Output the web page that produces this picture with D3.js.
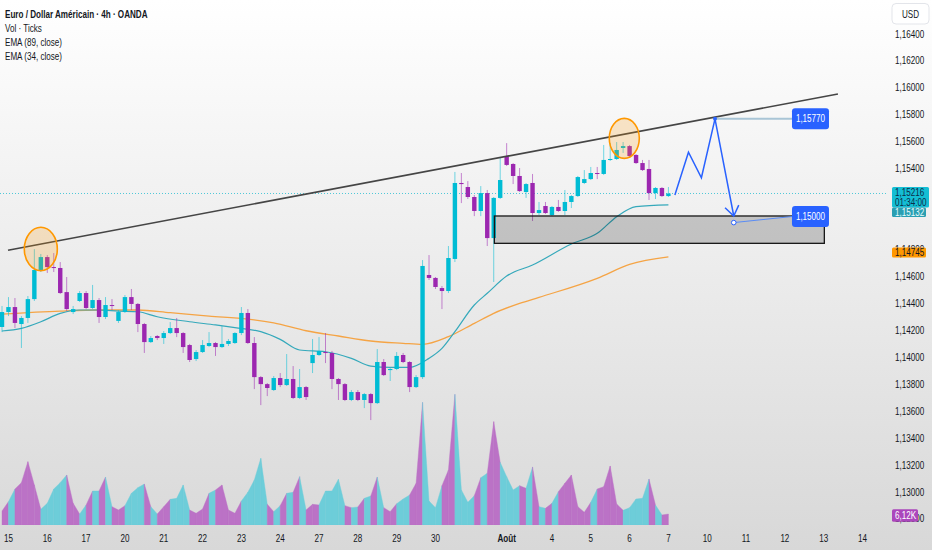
<!DOCTYPE html>
<html>
<head>
<meta charset="utf-8">
<script src="https://cdn.jsdelivr.net/npm/d3@7"></script>
<style>
  html, body { margin: 0; padding: 0; background: #fff; }
  svg { display: block; font-family: "Liberation Sans", Arial, sans-serif; }
</style>
</head>
<body>
<svg width="932" height="550"></svg>
<script>
// EUR/USD 4h candles
const opens = [1.14225,1.14336,1.14373,1.14247,1.14292,1.14432,1.14648,1.14744,1.14670,1.14663,
  1.14484,1.14336,1.14418,1.14477,1.14366,1.14425,1.14299,1.14388,1.14270,1.14336,
  1.14447,1.14396,1.14247,1.14113,1.14158,1.14143,1.14180,1.14217,1.14180,1.14091,
  1.13987,1.14039,1.14084,1.14106,1.14076,1.14099,1.14106,1.14180,1.14329,1.14106,
  1.13853,1.13801,1.13757,1.13846,1.13794,1.13839,1.13698,1.13779,1.13957,1.14017,
  1.14039,1.14032,1.13839,1.13801,1.13683,1.13742,1.13683,1.13727,1.13660,1.13965,
  1.13905,1.13913,1.14017,1.13965,1.13779,1.13853,1.14611,1.14589,1.14514,1.14492,
  1.14730,1.15294,1.15264,1.15190,1.15086,1.15219,1.14885,1.15183,1.15494,1.15435,
  1.15346,1.15227,1.15294,1.15071,1.15123,1.15056,1.15116,1.15086,1.15153,1.15197,
  1.15294,1.15323,1.15368,1.15361,1.15465,1.15472,1.15554,1.15568,1.15502,1.15442,
  1.15398,1.15219,1.15257,1.15197];
const highs = [1.14381,1.14447,1.14440,1.14306,1.14455,1.14803,1.14767,1.14759,1.14774,1.14707,
  1.14596,1.14381,1.14492,1.14492,1.14537,1.14440,1.14447,1.14432,1.14351,1.14462,
  1.14507,1.14403,1.14255,1.14158,1.14165,1.14195,1.14262,1.14292,1.14187,1.14099,
  1.14054,1.14128,1.14187,1.14113,1.14232,1.14136,1.14187,1.14373,1.14358,1.14150,
  1.13861,1.13809,1.13861,1.13883,1.14024,1.13935,1.13913,1.13787,1.14136,1.14150,
  1.14180,1.14047,1.13846,1.13809,1.13757,1.13757,1.13735,1.13735,1.14061,1.13987,
  1.13920,1.14039,1.14032,1.13972,1.13868,1.14722,1.14759,1.14596,1.14529,1.14826,
  1.15376,1.15368,1.15308,1.15205,1.15271,1.15242,1.15190,1.15479,1.15590,1.15442,
  1.15405,1.15294,1.15361,1.15153,1.15153,1.15123,1.15168,1.15242,1.15205,1.15346,
  1.15390,1.15413,1.15413,1.15576,1.15590,1.15598,1.15598,1.15576,1.15509,1.15465,
  1.15465,1.15264,1.15264,1.15264];
const lows = [1.14187,1.14306,1.14217,1.14069,1.14255,1.14418,1.14633,1.14626,1.14633,1.14470,
  1.14343,1.14321,1.14410,1.14358,1.14358,1.14255,1.14284,1.14351,1.14255,1.14329,
  1.14351,1.14187,1.14032,1.14106,1.14128,1.14099,1.14173,1.14150,1.14032,1.13965,
  1.13972,1.14032,1.14076,1.14010,1.14069,1.14084,1.14099,1.14165,1.14099,1.13764,
  1.13645,1.13712,1.13750,1.13779,1.13787,1.13690,1.13690,1.13683,1.13883,1.14010,
  1.13957,1.13764,1.13683,1.13675,1.13675,1.13675,1.13623,1.13534,1.13653,1.13861,
  1.13824,1.13905,1.13957,1.13742,1.13772,1.13839,1.14574,1.14507,1.14358,1.14477,
  1.14707,1.15145,1.15175,1.15048,1.15048,1.14826,1.14559,1.15175,1.15420,1.15286,
  1.15227,1.15183,1.15012,1.15056,1.15064,1.15048,1.15079,1.15056,1.15108,1.15190,
  1.15286,1.15316,1.15323,1.15353,1.15457,1.15465,1.15517,1.15487,1.15435,1.15383,
  1.15168,1.15175,1.15190,1.15190];
const closes = [1.14336,1.14373,1.14255,1.14292,1.14432,1.14648,1.14744,1.14670,1.14663,1.14477,
  1.14358,1.14358,1.14477,1.14366,1.14425,1.14299,1.14388,1.14381,1.14336,1.14447,
  1.14396,1.14247,1.14113,1.14143,1.14143,1.14180,1.14217,1.14180,1.14076,1.13980,
  1.14039,1.14091,1.14106,1.14076,1.14099,1.14121,1.14180,1.14329,1.14106,1.13853,
  1.13801,1.13772,1.13846,1.13794,1.13839,1.13698,1.13779,1.13705,1.14017,1.14047,
  1.14032,1.13839,1.13801,1.13683,1.13742,1.13683,1.13727,1.13660,1.13965,1.13868,
  1.13913,1.14010,1.13965,1.13779,1.13853,1.14678,1.14589,1.14522,1.14492,1.14737,
  1.15294,1.15286,1.15190,1.15086,1.15219,1.14885,1.15183,1.15316,1.15428,1.15346,
  1.15234,1.15286,1.15071,1.15093,1.15071,1.15116,1.15086,1.15153,1.15197,1.15338,
  1.15323,1.15368,1.15361,1.15465,1.15472,1.15539,1.15568,1.15494,1.15442,1.15390,
  1.15219,1.15257,1.15197,1.15216];

// tick volume, thousands
const volumes = [7.79,12.99,20.03,23.56,35.25,22.26,8.72,12.06,20.03,23.56,
  27.83,12.06,6.12,11.13,18.92,18.92,26.71,10.20,8.35,10.76,
  17.62,20.78,22.82,10.20,6.12,10.20,14.28,14.84,22.26,8.35,
  6.49,8.90,17.62,19.48,22.26,8.35,6.49,13.36,18.18,25.04,
  37.10,11.50,7.42,10.76,17.62,18.18,26.90,8.35,11.50,11.13,
  18.92,18.92,25.41,10.76,9.65,10.02,14.84,16.14,26.71,9.65,
  7.42,11.87,14.47,16.70,23.19,68.26,13.36,9.65,21.89,30.61,
  72.72,19.48,12.61,16.32,26.34,28.75,57.51,34.87,26.90,19.48,
  21.89,20.41,32.28,10.20,9.28,12.06,18.55,23.19,27.83,10.20,
  7.05,12.61,20.03,21.33,32.83,11.69,8.16,9.65,14.47,14.84,
  25.60,11.13,5.57,6.12];
// colour of each volume segment between two bars: p = purple, c = cyan
const volColors = ("pcppppcccc" + "ppcpcpcppc" + "ccpcppcccp" + "ppcppppccc" + "cpcpcpcppc" +
  "cccpcpcpcp" + "pccppcccpp" + "cccpcppccc" + "pcpcpcpppp" + "pcppppcccc" + "pcp").split('');

// moving averages sampled along the picture (bar index, price)
const ema89Idx = [0, 9, 15, 21, 26, 32, 38, 42, 47, 52, 57, 62, 65, 69, 73, 76, 80, 83, 92, 97, 103];
const ema89Val = [1.14321,1.14343,1.14351,1.14351,1.14331,1.14306,1.14284,1.14255,1.14197,1.14158,
  1.14121,1.14104,1.14096,1.14153,1.14252,1.14326,1.14400,1.14445,1.14586,1.14689,1.14745];
const ema34Idx = [0, 3, 6, 9, 12, 15, 18, 21, 24, 29, 33, 36, 40, 43, 46, 50, 54, 57, 60, 63,
  66, 68, 70, 73, 75, 78, 82, 88, 92, 95, 98, 103];
const ema34Val = [1.14195,1.14215,1.14264,1.14326,1.14351,1.14351,1.14343,1.14338,1.14301,1.14264,
  1.14240,1.14220,1.14190,1.14133,1.14054,1.14041,1.13992,1.13935,1.13925,1.13925,
  1.13992,1.14066,1.14190,1.14388,1.14475,1.14603,1.14685,1.14841,1.14920,1.15044,1.15118,1.15132];

// time axis
const dayIdx = [1, 7, 13, 19, 25, 31, 37, 43, 49, 55, 61, 67, 78, 85, 91, 97, 103, 109, 115, 121, 127, 133];
const dayLbl = ['15','16','17','20','21','22','23','24','27','28','29','30','Août','4','5','6','7','10','11','12','13','14'];

// drawings
const trendIdx = [0.93, 129.2];
const trendVal = [1.14795, 1.15955];
const circles = [[3.45, 8.55, 1.14965, 1.14643], [93.86, 98.5, 1.15774, 1.15477]];
const zoneIdx = [76.1, 127.1];
const zoneVal = [1.14846, 1.15049];
const projIdx = [104.0, 106.1, 108.1, 110.2, 113.1];
const projVal = [1.15205, 1.15522, 1.15333, 1.15770, 1.15049];
const targetVal = [1.15770, 1.15000];
const targetAnchor = [1.15770, 1.15045];
const targetIdx = 122.1;

const lastPrice = 1.15216;
const ema34Last = 1.15132;
const ema89Last = 1.14745;
const lastVol = 6.12;
const countdown = '01:34:00';

const UP = '#00bcd4', DOWN = '#9c27b0';
const SX = 0.81; // the chart's font is narrower than the installed ones

const svg = d3.select('svg');
const W = +svg.attr('width'), H = +svg.attr('height');

const x = d3.scaleLinear().domain([0, 133]).range([2, 2 + 6.47 * 133]);
const y = d3.scaleLinear().domain([1.130, 1.164]).range([492, 34]);
const yVol = d3.scaleLinear().domain([0, 6.12]).range([525, 514]);

const loc = d3.formatLocale({decimal: ',', thousands: '\u00a0', grouping: [3], currency: ['', '']});
const fmt = loc.format('.5f');
const fmtK = v => loc.format('.2f')(v) + 'K';

const at = (tx, ty) => `translate(${tx},${ty}) scale(${SX},1)`;

const defs = svg.append('defs');
const grad = defs.append('linearGradient').attr('id', 'bg').attr('x1', 0).attr('y1', 0).attr('x2', 0).attr('y2', 1);
grad.append('stop').attr('offset', '0%').attr('stop-color', '#ffffff');
grad.append('stop').attr('offset', '100%').attr('stop-color', '#d8d8d8');
defs.append('clipPath').attr('id', 'plot').append('rect')
  .attr('x', 0).attr('y', 0).attr('width', 886).attr('height', 525);

svg.append('rect').attr('width', W).attr('height', H).attr('fill', 'url(#bg)');

const plot = svg.append('g').attr('clip-path', 'url(#plot)');

// volume, drawn as an area split in coloured segments
plot.append('g')
  .selectAll('path')
  .data(d3.range(volumes.length - 1))
  .join('path')
  .attr('d', k => `M${x(k)},${yVol(0)}L${x(k)},${yVol(volumes[k])}L${x(k + 1)},${yVol(volumes[k + 1])}L${x(k + 1)},${yVol(0)}Z`)
  .attr('fill', k => volColors[k] === 'p' ? '#bb72c6' : '#6dcdd9')
  .attr('stroke', k => volColors[k] === 'p' ? '#bb72c6' : '#6dcdd9')
  .attr('stroke-width', 0.4);

// last price dotted line
plot.append('line')
  .attr('x1', 0).attr('x2', 892)
  .attr('y1', y(lastPrice)).attr('y2', y(lastPrice))
  .attr('stroke', '#4fc8d8').attr('stroke-width', 1)
  .attr('stroke-dasharray', '1,2');

// EMAs
const emaLine = d3.line().x(d => x(d[0])).y(d => y(d[1])).curve(d3.curveMonotoneX);
plot.append('path')
  .attr('d', emaLine(d3.zip(ema89Idx, ema89Val)))
  .attr('fill', 'none').attr('stroke', '#f5a445').attr('stroke-width', 1.3);
plot.append('path')
  .attr('d', emaLine(d3.zip(ema34Idx, ema34Val)))
  .attr('fill', 'none').attr('stroke', '#35a9bb').attr('stroke-width', 1.2);

// candles
const bars = d3.range(opens.length).map(i => ({i, o: opens[i], h: highs[i], l: lows[i], c: closes[i]}));
const candle = plot.append('g').selectAll('g').data(bars).join('g');
candle.append('line')
  .attr('x1', d => x(d.i)).attr('x2', d => x(d.i))
  .attr('y1', d => y(d.h)).attr('y2', d => y(d.l))
  .attr('stroke', d => d.c >= d.o ? UP : DOWN)
  .attr('stroke-opacity', 0.55)
  .attr('stroke-width', 1);
candle.append('rect')
  .attr('x', d => x(d.i) - 2.2)
  .attr('width', 4.4)
  .attr('y', d => y(Math.max(d.o, d.c)))
  .attr('height', d => Math.max(1, Math.abs(y(d.o) - y(d.c))))
  .attr('fill', d => d.c >= d.o ? UP : DOWN);

// support zone
plot.append('rect')
  .attr('x', x(zoneIdx[0])).attr('width', x(zoneIdx[1]) - x(zoneIdx[0]))
  .attr('y', y(zoneVal[1])).attr('height', y(zoneVal[0]) - y(zoneVal[1]))
  .attr('fill', 'rgba(0,0,0,0.19)')
  .attr('stroke', '#161616').attr('stroke-width', 1.3);

// trend line
plot.append('line')
  .attr('x1', x(trendIdx[0])).attr('y1', y(trendVal[0]))
  .attr('x2', x(trendIdx[1])).attr('y2', y(trendVal[1]))
  .attr('stroke', '#454545').attr('stroke-width', 1.6);

// highlighted touches
plot.append('g').selectAll('ellipse').data(circles).join('ellipse')
  .attr('cx', d => (x(d[0]) + x(d[1])) / 2)
  .attr('cy', d => (y(d[2]) + y(d[3])) / 2)
  .attr('rx', d => (x(d[1]) - x(d[0])) / 2)
  .attr('ry', d => (y(d[3]) - y(d[2])) / 2)
  .attr('fill', 'rgba(255,152,0,0.2)')
  .attr('stroke', '#ff9800').attr('stroke-width', 1.6);

// projected path
const BLUE = '#2962ff';
const proj = d3.zip(projIdx, projVal).map(d => [x(d[0]), y(d[1])]);
plot.append('path')
  .attr('d', d3.line()(proj))
  .attr('fill', 'none').attr('stroke', BLUE).attr('stroke-width', 1.5)
  .attr('stroke-linejoin', 'miter');
const tip = proj[proj.length - 1], prev = proj[proj.length - 2];
const ang = Math.atan2(prev[1] - tip[1], prev[0] - tip[0]);
const wing = [ang - 0.62, ang + 0.62].map(a => [tip[0] + 12 * Math.cos(a), tip[1] + 12 * Math.sin(a)]);
plot.append('path')
  .attr('d', d3.line()([wing[0], tip, wing[1]]))
  .attr('fill', 'none').attr('stroke', BLUE).attr('stroke-width', 1.5);

// target lines and labels
const boxX = x(targetIdx), boxW = 37, boxH = 21;
plot.append('line')
  .attr('x1', x(projIdx[3])).attr('x2', boxX)
  .attr('y1', y(targetAnchor[0])).attr('y2', y(targetAnchor[0]))
  .attr('stroke', '#a9c5d6').attr('stroke-width', 2);
plot.append('circle')
  .attr('cx', x(projIdx[3])).attr('cy', y(projVal[3])).attr('r', 2).attr('fill', BLUE);
plot.append('line')
  .attr('x1', x(projIdx[4])).attr('y1', y(targetVal[1]))
  .attr('x2', boxX).attr('y2', y(targetAnchor[1]))
  .attr('stroke', '#5a8cf5').attr('stroke-width', 1);
plot.append('circle')
  .attr('cx', x(projIdx[4])).attr('cy', y(targetVal[1])).attr('r', 2.3)
  .attr('fill', '#fff').attr('stroke', BLUE).attr('stroke-width', 1);

const tgt = svg.append('g').selectAll('g').data(d3.zip(targetVal, targetAnchor)).join('g')
  .attr('transform', d => `translate(${boxX},${y(d[1]) - boxH / 2})`);
tgt.append('rect').attr('width', boxW).attr('height', boxH).attr('rx', 3).attr('fill', BLUE);
tgt.append('text')
  .attr('transform', at(boxW / 2, boxH / 2 + 3.6))
  .attr('text-anchor', 'middle').attr('font-size', 10).attr('fill', '#fff')
  .text(d => fmt(d[0]));

// legend
const legend = svg.append('g').attr('fill', '#131722').attr('font-size', 10);
legend.append('text').attr('transform', at(5, 17.5)).attr('font-weight', 'bold')
  .text('Euro / Dollar Américain · 4h · OANDA');
['Vol · Ticks', 'EMA (89, close)', 'EMA (34, close)'].forEach((t, k) => {
  legend.append('text').attr('transform', at(5, 31.8 + k * 14.2)).text(t);
});

// price axis
const ticks = d3.range(1.128, 1.1641, 0.002)
  .filter(v => { const yy = y(v); return yy < 184 || yy > 226; });
svg.append('g').selectAll('text').data(ticks).join('text')
  .attr('transform', v => at(895, y(v) + 3.5))
  .attr('font-size', 10).attr('fill', '#131722')
  .text(v => fmt(v));

svg.append('rect').attr('x', 892).attr('y', 3.5).attr('width', 37).attr('height', 20.5)
  .attr('rx', 4).attr('fill', '#fff').attr('stroke', '#e3e5ea');
svg.append('text').attr('transform', at(910.5, 17.5)).attr('text-anchor', 'middle')
  .attr('font-size', 10).attr('fill', '#131722').text('USD');

function priceTag(top, h, w, fill, lines, color) {
  svg.append('rect').attr('x', 892).attr('y', top).attr('width', w).attr('height', h)
    .attr('rx', 1.5).attr('fill', fill);
  const lh = h / lines.length;
  lines.forEach((t, k) => {
    svg.append('text').attr('transform', at(895, top + 3.6 + (k + 0.5) * lh))
      .attr('font-size', 10).attr('fill', color).text(t);
  });
  return top + h;
}
const lastBottom = priceTag(y(lastPrice) - 6.5, 20.5, 37, '#14bed4', [fmt(lastPrice), countdown], '#0d2c48');
priceTag(Math.max(lastBottom, y(ema34Last) - 4.7), 9.5, 34, '#2a9fb2', [fmt(ema34Last)], '#e8fbfd');
priceTag(y(ema89Last) - 9.5, 10, 34, '#ff9800', [fmt(ema89Last)], '#131722');
priceTag(yVol(lastVol) - 4.7, 12.4, 26, '#ab47bc', [fmtK(lastVol)], '#ffffff');

// time axis
svg.append('g').selectAll('text').data(d3.zip(dayIdx, dayLbl)).join('text')
  .attr('transform', d => at(x(d[0]), 541.5))
  .attr('text-anchor', 'middle')
  .attr('font-size', 10).attr('fill', '#131722')
  .attr('font-weight', d => d[1] === 'Août' ? 'bold' : null)
  .text(d => d[1]);
</script>
</body>
</html>
